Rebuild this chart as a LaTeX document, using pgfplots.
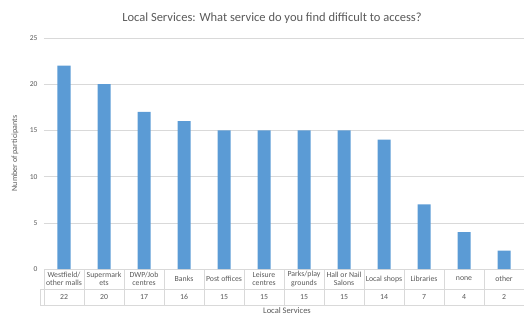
\documentclass[border=0pt]{standalone}
\usepackage{pgfplots}
\usepackage{pgfplotstable}
\pgfplotsset{compat=1.18}
\usepackage{fontspec}
\setmainfont{Carlito}
\definecolor{barblue}{HTML}{5B9BD5}
\definecolor{txtgray}{HTML}{595959}
\definecolor{gridgray}{HTML}{D9D9D9}
\pgfplotstableread[col sep=comma]{
x,value
0,22
1,20
2,17
3,16
4,15
5,15
6,15
7,15
8,14
9,7
10,4
11,2
}\data
\begin{document}
\begin{tikzpicture}[x=1pt,y=1pt]
\begin{axis}[
  at={(44pt,47pt)}, anchor=south west,
  scale only axis, width=480pt, height=231pt,
  xmin=-0.5, xmax=11.5, ymin=0, ymax=25,
  ytick={0,5,...,25},
  xtick={0,...,11},
  xticklabels={{Westfield/\\other malls},{Supermark\\ets},{DWP/Job\\centres},{Banks},{Post offices},{Leisure\\centres},{Parks/play\\grounds},{Hall or Nail\\Salons},{Local shops},{Libraries},{none},{other}},
  xticklabel style={anchor=center, yshift=-10pt, align=center, font=\fontsize{7.8}{8.6}\selectfont, text=txtgray, inner sep=0pt},
  yticklabel style={font=\fontsize{7.5}{8.5}\selectfont, text=txtgray, xshift=-3pt},
  /pgf/number format/assume math mode=true,
  major tick length=0pt,
  ymajorgrids, grid style={gridgray, line width=0.6pt},
  axis x line*=bottom, axis y line*=left,
  x axis line style={draw=gridgray, line width=0.6pt, -},
  y axis line style={draw=none},
  ylabel={Number of participants},
  ylabel style={font=\fontsize{8}{9}\selectfont, text=txtgray, at={(axis description cs:-0.046,0.5)}, anchor=south, rotate=0},
  clip=false,
]
\addplot[ybar, bar width=13pt, fill=barblue, draw=none] table[x=x, y=value]{\data};
\end{axis}
% data table grid
\draw[gridgray, line width=0.6pt] (40,27) -- (524,27);
\draw[gridgray, line width=0.6pt] (40,11) -- (524,11);
\draw[gridgray, line width=0.6pt] (40,11) -- (40,27);
\foreach \k in {0,...,12} {\draw[gridgray, line width=0.6pt] ({44+40*\k},11) -- ({44+40*\k},47);}
\foreach \i in {0,...,11} {
  \pgfplotstablegetelem{\i}{value}\of\data
  \node[font=\fontsize{7.8}{8.6}\selectfont, text=txtgray, inner sep=0pt] at ({64+40*\i},19) {\pgfplotsretval};
}
\node[font=\fontsize{12.5}{14}\selectfont, text=txtgray] at (272,298) {Local Services: What service do you find difficult to access?};
\node[font=\fontsize{8.5}{9.5}\selectfont, text=txtgray, inner sep=0pt] at (287,5.5) {Local Services};
\pgfresetboundingbox
\path[use as bounding box] (0,0) rectangle (524,316);
\end{tikzpicture}
\end{document}
